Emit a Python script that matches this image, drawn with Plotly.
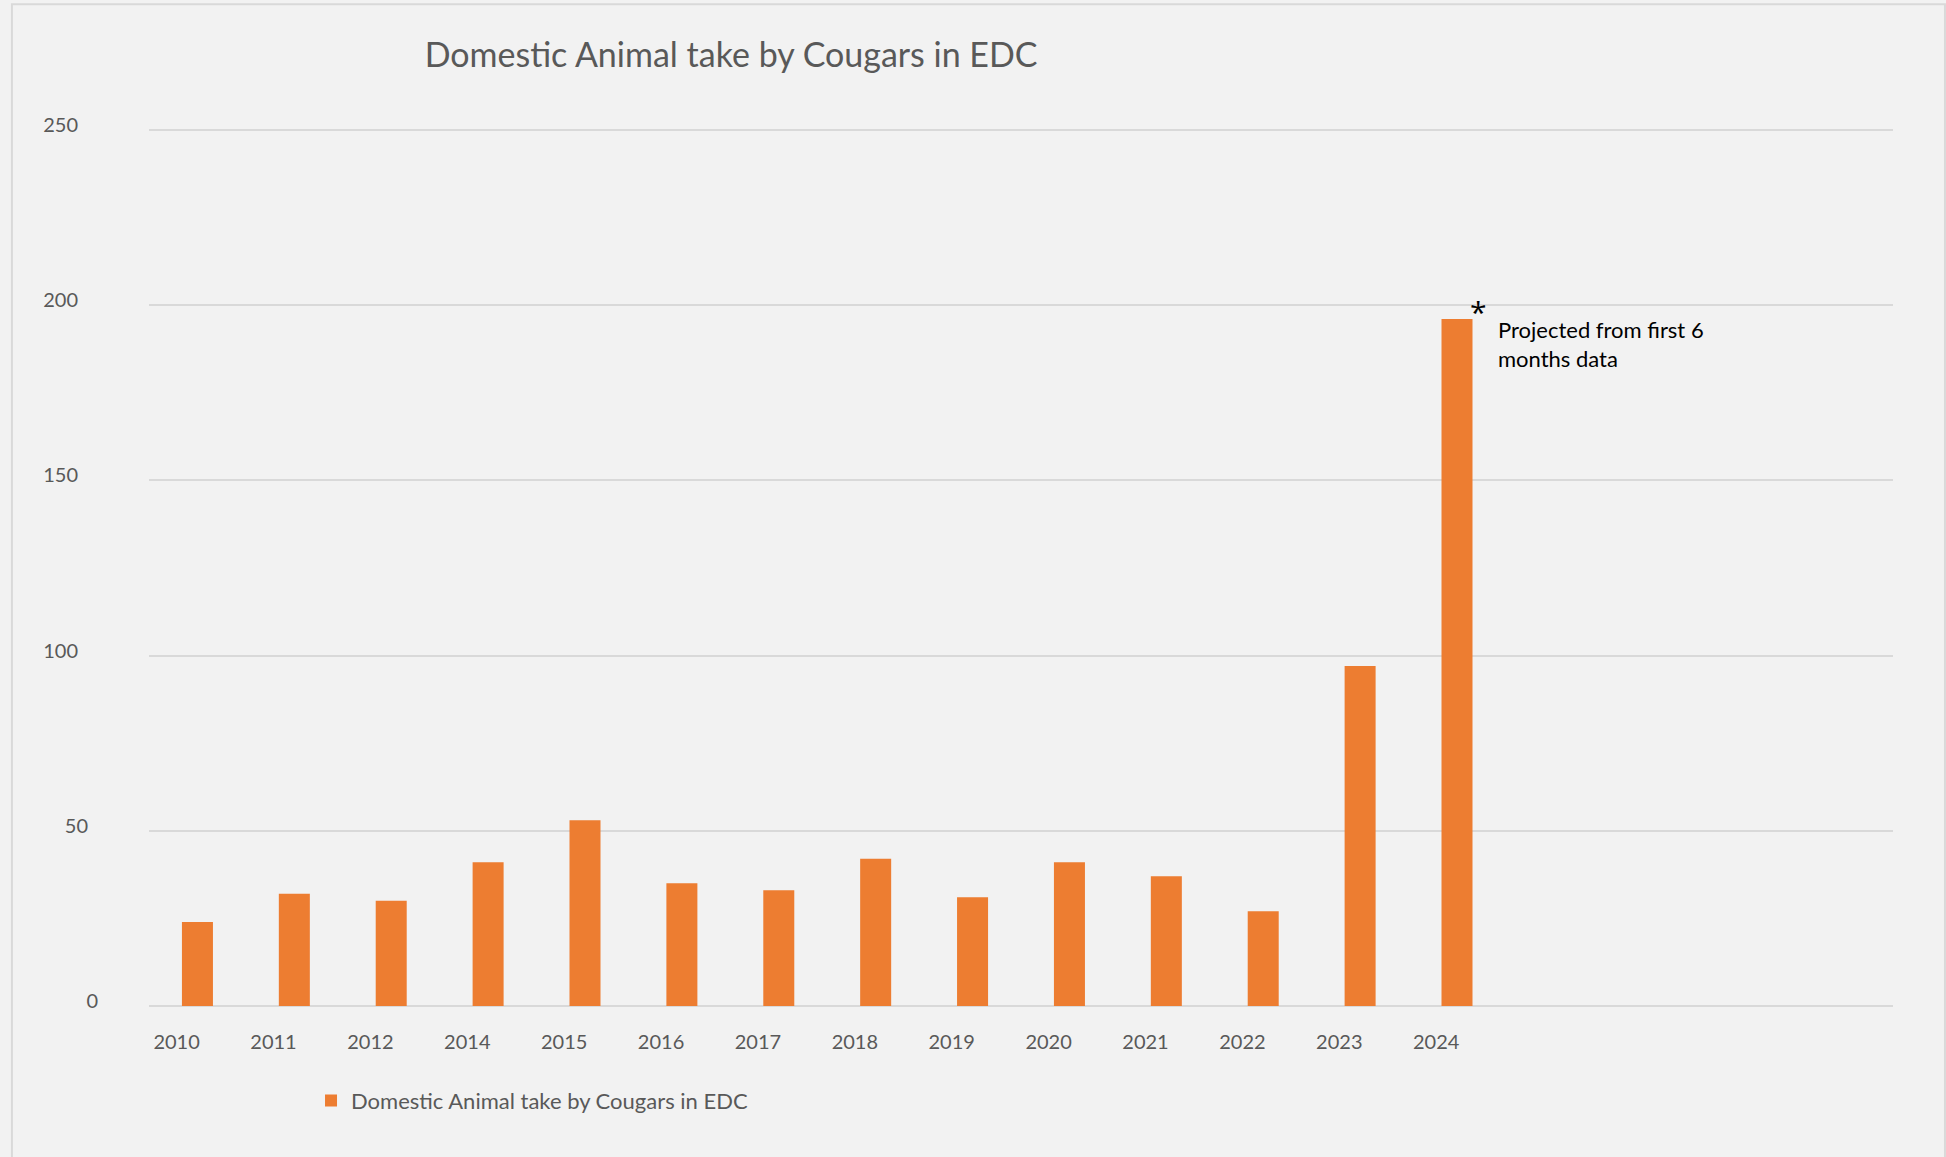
import plotly.graph_objects as go

# ---- data ----
years = ["2010", "2011", "2012", "2014", "2015", "2016", "2017",
         "2018", "2019", "2020", "2021", "2022", "2023", "2024"]
takes = [24, 32, 30, 41, 53, 35, 33, 42, 31, 41, 37, 27, 97, 196]
y_tick_vals = [0, 50, 100, 150, 200, 250]
y_tick_text = ["0", "50\u2002", "100\u2002\u2002", "150\u2002\u2002",
               "200\u2002\u2002", "250\u2002\u2002"]
series_name = "Domestic Animal take by Cougars in EDC"
title_text = "Domestic Animal take by Cougars in EDC"
note_star = "*"
note_text = "Projected from first 6<br>months data"
n_slots = 18          # the category axis holds 18 slots, last 4 empty
label_offset = -0.215 # year labels sit left of their bars

FONT = "Lato"
GRAY = "#595959"
ORANGE = "#ED7D31"
GRID = "#d9d9d9"
BG = "#f2f2f2"

idx = list(range(len(years)))

fig = go.Figure()
fig.add_trace(go.Bar(
    x=idx, y=takes, name=series_name,
    marker=dict(color=ORANGE, line=dict(width=0)),
    width=0.32, showlegend=True,
))

fig.update_layout(
    width=1946, height=1157,
    margin=dict(l=149, r=53, t=128, b=151, pad=0),
    paper_bgcolor=BG, plot_bgcolor=BG,
    font=dict(family=FONT, color=GRAY, size=20),
    title=dict(text=title_text, x=0.3757, xref="container", xanchor="center",
               y=1 - 55 / 1157, yref="container", yanchor="middle",
               font=dict(family=FONT, size=34, color=GRAY)),
    showlegend=True,
    legend=dict(orientation="h", x=0.0929, xanchor="left", y=-0.108,
                yanchor="middle", bgcolor="rgba(0,0,0,0)",
                font=dict(family=FONT, size=22, color=GRAY)),
)

fig.update_xaxes(
    type="linear", range=[-0.5, n_slots - 0.5], showgrid=False, zeroline=False,
    showline=False, ticks="", tickmode="array",
    tickvals=[i + label_offset for i in idx], ticktext=years,
    tickfont=dict(family=FONT, size=20, color=GRAY),
    ticklabelstandoff=22, fixedrange=True,
)
fig.update_yaxes(
    range=[0, 250.5], tickvals=y_tick_vals, ticktext=y_tick_text,
    showgrid=True, gridcolor=GRID, gridwidth=2,
    zeroline=True, zerolinecolor=GRID, zerolinewidth=2,
    showline=False, ticks="", tickfont=dict(family=FONT, size=20, color=GRAY),
    ticklabelstandoff=50, ticklabelshift=-5, fixedrange=True,
)

# chart frame
fig.add_shape(type="rect", xref="paper", yref="paper",
              x0=-0.0786, x1=1.0298, y0=-0.2, y1=1.141,
              line=dict(color=GRID, width=2), fillcolor="rgba(0,0,0,0)",
              layer="below")

# notes by the 2024 bar
fig.add_annotation(x=idx[-1], y=takes[-1], text=note_star, showarrow=False,
                   xanchor="center", yanchor="middle", xshift=21, yshift=8,
                   font=dict(family="Open Sans", size=30, color="#000000"))
fig.add_annotation(x=idx[-1], y=takes[-1], text=note_text, showarrow=False,
                   xanchor="left", yanchor="top", align="left", xshift=39, yshift=5,
                   font=dict(family=FONT, size=22, color="#000000"))

fig.write_html("out.html",
               config={"displayModeBar": False},
               post_script="document.body.style.margin='0';"
                           "document.body.style.overflow='hidden';")
